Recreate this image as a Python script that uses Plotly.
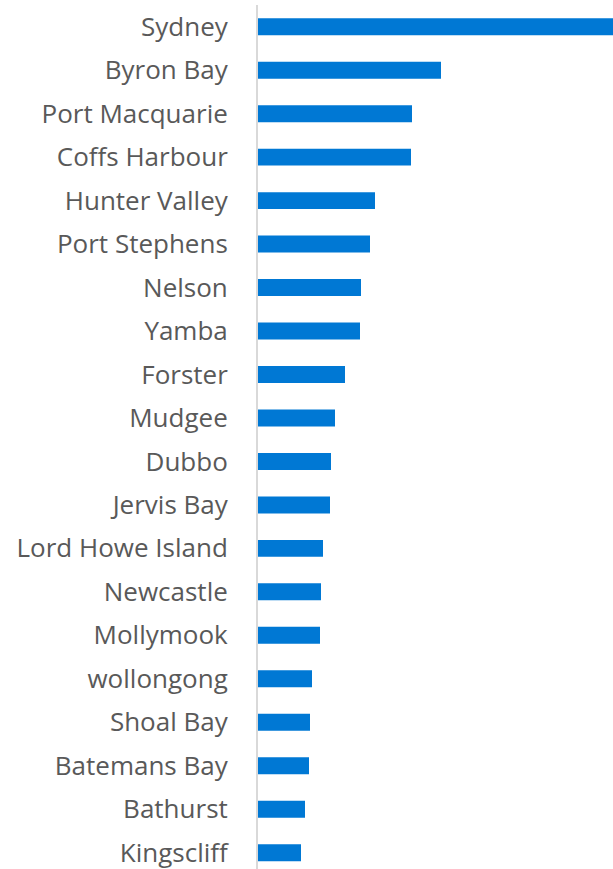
import plotly.graph_objects as go

# Destinations, listed top to bottom
destinations = [
    "Sydney", "Byron Bay", "Port Macquarie", "Coffs Harbour", "Hunter Valley",
    "Port Stephens", "Nelson", "Yamba", "Forster", "Mudgee", "Dubbo",
    "Jervis Bay", "Lord Howe Island", "Newcastle", "Mollymook", "wollongong",
    "Shoal Bay", "Batemans Bay", "Bathurst", "Kingscliff",
]
# Relative popularity score per destination
scores = [
    355, 183, 154, 153, 117, 112, 103, 102, 87, 77, 73,
    72, 65, 63, 62, 54, 52, 51, 47, 43,
]

W, H = 613, 869
TOP, LEFT = 5, 258
row_px = 43.47
plot_h = H - TOP
n = len(destinations)

fig = go.Figure(
    go.Bar(
        x=scores,
        y=list(range(n)),
        orientation="h",
        marker=dict(color="#0078D4", line=dict(width=0)),
        width=0.39,
        cliponaxis=True,
    )
)

fig.update_layout(
    width=W,
    height=H,
    margin=dict(l=LEFT, r=0, t=TOP, b=0),
    paper_bgcolor="white",
    plot_bgcolor="white",
    showlegend=False,
    font=dict(family="Open Sans", size=26, color="#595959"),
)

fig.update_xaxes(
    range=[0, 355],
    visible=False,
    showgrid=False,
    zeroline=False,
)

fig.update_yaxes(
    tickmode="array",
    tickvals=list(range(n)),
    ticktext=destinations,
    range=[-0.5 + plot_h / row_px, -0.5],
    showgrid=False,
    zeroline=False,
    showline=True,
    linecolor="#d9d9d9",
    linewidth=2,
    ticks="",
    ticklabelstandoff=23,
    ticklabeloverflow="allow",
)

fig.write_html("out.html", config={"displayModeBar": False})
